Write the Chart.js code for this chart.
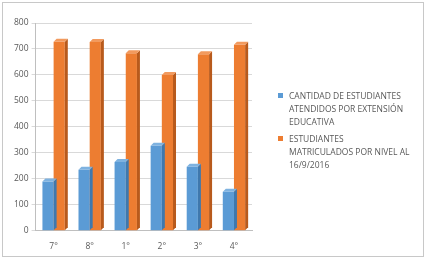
<!DOCTYPE html>
<html>
<head>
<meta charset="utf-8">
<script src="https://cdn.jsdelivr.net/npm/chart.js@4/dist/chart.umd.min.js"></script>
<style>
  html, body { margin: 0; padding: 0; background: #fff; }
  #wrap { position: relative; width: 426px; height: 260px; }
  #frame { position: absolute; left: 2px; top: 2px; right: 2px; bottom: 3px; border: 1px solid #c8c8c8; pointer-events: none; }
  #legend { position: absolute; left: 278px; top: 89px; width: 146px; font-family: "Open Sans", sans-serif; font-size: 8.5px; line-height: 13px; color: #595959; }
  .item { position: relative; padding-left: 11px; margin-bottom: 4px; white-space: nowrap; }
  .box { position: absolute; left: 0; top: 4px; width: 5px; height: 5px; }
</style>
</head>
<body>
<div id="wrap">
  <canvas id="chart" width="426" height="260"></canvas>
  <div id="legend"></div>
  <div id="frame"></div>
</div>
<script>
// datos
const niveles = ['7°', '8°', '1°', '2°', '3°', '4°'];
const atendidos = [190, 235, 265, 327, 247, 150];
const matriculados = [728, 727, 684, 600, 680, 716];
const etiquetaAtendidos = ['CANTIDAD DE ESTUDIANTES', 'ATENDIDOS POR EXTENSIÓN', 'EDUCATIVA'];
const etiquetaMatriculados = ['ESTUDIANTES', 'MATRICULADOS POR NIVEL AL', '16/9/2016'];
const ticksY = [0, 100, 200, 300, 400, 500, 600, 700, 800];

const colores = ['#5b9bd5', '#ed7d31'];
const lados = ['#3f78ad', '#b85a1c'];
const topes = ['#7eb2e0', '#f29a5e'];

// cara lateral y tapa para imitar el 3D
const sombra = {
  id: 'sombra',
  afterDatasetsDraw(chart) {
    const ctx = chart.ctx;
    const d = 3;
    chart.data.datasets.forEach((ds, i) => {
      chart.getDatasetMeta(i).data.forEach((bar) => {
        const left = bar.x - bar.width / 2;
        const right = bar.x + bar.width / 2;
        ctx.save();
        ctx.fillStyle = lados[i];
        ctx.beginPath();
        ctx.moveTo(right, bar.y);
        ctx.lineTo(right + d, bar.y - d);
        ctx.lineTo(right + d, bar.base - d);
        ctx.lineTo(right, bar.base);
        ctx.closePath();
        ctx.fill();
        ctx.fillStyle = topes[i];
        ctx.beginPath();
        ctx.moveTo(left, bar.y);
        ctx.lineTo(left + d, bar.y - d);
        ctx.lineTo(right + d, bar.y - d);
        ctx.lineTo(right, bar.y);
        ctx.closePath();
        ctx.fill();
        ctx.restore();
      });
    });
  }
};

new Chart(document.getElementById('chart'), {
  type: 'bar',
  data: {
    labels: niveles,
    datasets: [
      { label: etiquetaAtendidos.join(' '), data: atendidos, backgroundColor: colores[0] },
      { label: etiquetaMatriculados.join(' '), data: matriculados, backgroundColor: colores[1] },
    ],
  },
  options: {
    animation: false,
    responsive: false,
    layout: { padding: { left: 11, top: 23, right: 174, bottom: 5 } },
    datasets: { bar: { categoryPercentage: 0.62, barPercentage: 1 } },
    plugins: { legend: { display: false }, tooltip: { enabled: false } },
    scales: {
      x: {
        grid: { display: false },
        border: { color: '#bfbfbf' },
        ticks: { color: '#595959', font: { family: 'Open Sans', size: 8.5 } },
      },
      y: {
        min: 0,
        max: 800,
        afterBuildTicks: (s) => { s.ticks = ticksY.map((v) => ({ value: v })); },
        grid: { color: '#d9d9d9', tickLength: 4 },
        border: { color: '#bfbfbf' },
        ticks: { color: '#595959', font: { family: 'Open Sans', size: 8.5 }, padding: 3 },
      },
    },
  },
  plugins: [sombra],
});

// leyenda en HTML
const leyenda = document.getElementById('legend');
[etiquetaAtendidos, etiquetaMatriculados].forEach((lineas, i) => {
  const item = document.createElement('div');
  item.className = 'item';
  item.innerHTML = '<span class="box" style="background:' + colores[i] + '"></span>' + lineas.join('<br>');
  leyenda.appendChild(item);
});
</script>
</body>
</html>
